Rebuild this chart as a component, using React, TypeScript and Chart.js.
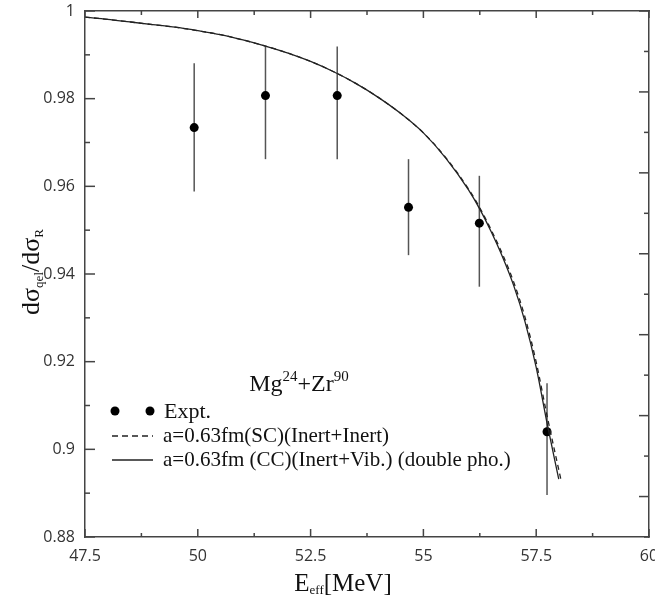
import React, { useEffect, useRef } from "react";
import { Chart, registerables } from "chart.js";

Chart.register(...registerables);

// ---- data ----
const exptE = [49.92, 51.5, 53.09, 54.67, 56.24, 57.74];
const exptY = [0.9734, 0.9807, 0.9807, 0.9552, 0.9516, 0.904];
const exptLow = [0.9588, 0.9662, 0.9662, 0.9443, 0.9371, 0.8896];
const exptHigh = [0.9881, 0.9919, 0.9919, 0.9662, 0.9624, 0.9151];

const ccE = [47.5, 48, 48.5, 49, 49.5, 50, 50.5, 51, 51.5, 52, 52.5, 53, 53.5, 54, 54.5, 55, 55.5, 56, 56.25, 56.5, 56.75, 57, 57.25, 57.5, 57.75, 58.0];
const ccY = [0.9986, 0.9981, 0.9975, 0.9969, 0.9963, 0.9955, 0.9946, 0.9934, 0.992, 0.9904, 0.9885, 0.9862, 0.9835, 0.9803, 0.9766, 0.9722, 0.9664, 0.9592, 0.9548, 0.9497, 0.944, 0.9374, 0.9292, 0.9187, 0.9055, 0.8932];

const scE = [47.5, 48, 48.5, 49, 49.5, 50, 50.5, 51, 51.5, 52, 52.5, 53, 53.5, 54, 54.5, 55, 55.5, 56, 56.25, 56.5, 56.75, 57, 57.25, 57.5, 57.75, 58.05];
const scY = [0.9986, 0.9981, 0.9975, 0.9969, 0.9963, 0.9955, 0.9946, 0.9934, 0.992, 0.9904, 0.9885, 0.9862, 0.9835, 0.9803, 0.9766, 0.9722, 0.9665, 0.9594, 0.9551, 0.9501, 0.9446, 0.9382, 0.9302, 0.9199, 0.9072, 0.893];

const xTicks = [47.5, 50, 52.5, 55, 57.5, 60];
const xMinorTicks = [48.75, 51.25, 53.75, 56.25, 58.75];
const yTicks = [0.88, 0.9, 0.92, 0.94, 0.96, 0.98, 1];
const yMinorTicks = [0.89, 0.91, 0.93, 0.95, 0.97, 0.99];
const rightTicks = [0, 1, 2, 3, 4, 5, 6, 7, 8, 9, 10, 11, 12, 13];

const legendTitle = [
  { t: "Mg", sup: false },
  { t: "24", sup: true },
  { t: "+Zr", sup: false },
  { t: "90", sup: true },
];
const legendLabels = ["Expt.", "a=0.63fm(SC)(Inert+Inert)", "a=0.63fm (CC)(Inert+Vib.) (double pho.)"];

const SERIF = '"Liberation Serif", "Times New Roman", serif';
const SANS = '"Open Sans", "DejaVu Sans", sans-serif';

type Part = { t: string; size: number; dy: number };
function drawParts(ctx: CanvasRenderingContext2D, parts: Part[], x: number, y: number, align: "center" | "left") {
  let total = 0;
  for (const p of parts) {
    ctx.font = `${p.size}px ${SERIF}`;
    total += ctx.measureText(p.t).width;
  }
  let cx = align === "center" ? x - total / 2 : x;
  ctx.textAlign = "left";
  ctx.textBaseline = "alphabetic";
  for (const p of parts) {
    ctx.font = `${p.size}px ${SERIF}`;
    ctx.fillText(p.t, cx, y + p.dy);
    cx += ctx.measureText(p.t).width;
  }
}

const decorPlugin = {
  id: "decor",
  beforeDatasetsDraw(chart: any) {
    const ctx = chart.ctx;
    const xs = chart.scales.x;
    const ys = chart.scales.y;
    ctx.save();
    ctx.strokeStyle = "#555";
    ctx.lineWidth = 1.5;
    for (let i = 0; i < exptE.length; i++) {
      const px = xs.getPixelForValue(exptE[i]);
      ctx.beginPath();
      ctx.moveTo(px, ys.getPixelForValue(exptLow[i]));
      ctx.lineTo(px, ys.getPixelForValue(exptHigh[i]));
      ctx.stroke();
    }
    ctx.restore();
  },
  afterDraw(chart: any) {
    const ctx = chart.ctx;
    const xs = chart.scales.x;
    const ys = chart.scales.y;
    const y2 = chart.scales.y2;
    const a = chart.chartArea;
    ctx.save();
    ctx.strokeStyle = "#444";
    ctx.lineWidth = 1.5;
    const line = (x1: number, y1: number, x2: number, yb: number) => {
      ctx.beginPath();
      ctx.moveTo(x1, y1);
      ctx.lineTo(x2, yb);
      ctx.stroke();
    };
    // bottom & top ticks
    for (const v of xTicks) {
      const p = xs.getPixelForValue(v);
      line(p, a.bottom, p, a.bottom - 8);
      line(p, a.top, p, a.top + 7);
    }
    for (const v of xMinorTicks) {
      const p = xs.getPixelForValue(v);
      line(p, a.bottom, p, a.bottom - 4);
      line(p, a.top, p, a.top + 4);
    }
    // left ticks
    for (const v of yTicks) {
      const p = ys.getPixelForValue(v);
      line(a.left, p, a.left + 10, p);
    }
    for (const v of yMinorTicks) {
      const p = ys.getPixelForValue(v);
      line(a.left, p, a.left + 5, p);
    }
    // right ticks
    for (const v of rightTicks) {
      const p = y2.getPixelForValue(v);
      line(a.right, p, a.right - (v % 2 === 1 ? 10 : 5), p);
    }

    // axis titles
    ctx.fillStyle = "#111";
    drawParts(
      ctx,
      [
        { t: "E", size: 25, dy: 0 },
        { t: "eff", size: 13, dy: 3 },
        { t: "[MeV]", size: 25, dy: 0 },
      ],
      343,
      591,
      "center"
    );
    ctx.save();
    ctx.translate(39, 272);
    ctx.rotate(-Math.PI / 2);
    drawParts(
      ctx,
      [
        { t: "d\u03c3", size: 26, dy: 0 },
        { t: "qel", size: 13, dy: 4 },
        { t: "/d\u03c3", size: 26, dy: 0 },
        { t: "R", size: 13, dy: 4 },
      ],
      0,
      0,
      "center"
    );
    ctx.restore();

    // legend
    drawParts(
      ctx,
      legendTitle.map((p) => ({ t: p.t, size: p.sup ? 15 : 24, dy: p.sup ? -10 : 0 })),
      299,
      391,
      "center"
    );
    // Expt row
    ctx.fillStyle = "#000";
    for (const cx of [115, 150]) {
      ctx.beginPath();
      ctx.arc(cx, 411, 4.5, 0, Math.PI * 2);
      ctx.fill();
    }
    ctx.fillStyle = "#111";
    drawParts(ctx, [{ t: legendLabels[0], size: 22, dy: 0 }], 164, 418, "left");
    // dashed row
    ctx.strokeStyle = "#222";
    ctx.lineWidth = 1.3;
    ctx.setLineDash([6, 4]);
    line(112, 436, 153, 436);
    ctx.setLineDash([]);
    drawParts(ctx, [{ t: legendLabels[1], size: 21, dy: 0 }], 163, 442, "left");
    // solid row
    line(112, 460, 153, 460);
    drawParts(ctx, [{ t: legendLabels[2], size: 21, dy: 0 }], 163, 466, "left");
    ctx.restore();
  },
};

export default function App() {
  const ref = useRef<HTMLCanvasElement | null>(null);
  useEffect(() => {
    if (!ref.current) return;
    const chart = new Chart(ref.current, {
      type: "scatter",
      data: {
        datasets: [
          {
            label: "a=0.63fm(SC)(Inert+Inert)",
            type: "line",
            data: scE.map((x, i) => ({ x, y: scY[i] })),
            borderColor: "#222",
            borderWidth: 1.3,
            borderDash: [5, 4],
            pointRadius: 0,
            fill: false,
            cubicInterpolationMode: "monotone",
          } as any,
          {
            label: "a=0.63fm (CC)(Inert+Vib.) (double pho.)",
            type: "line",
            data: ccE.map((x, i) => ({ x, y: ccY[i] })),
            borderColor: "#222",
            borderWidth: 1.3,
            pointRadius: 0,
            fill: false,
            cubicInterpolationMode: "monotone",
          } as any,
          {
            label: "Expt.",
            data: exptE.map((x, i) => ({ x, y: exptY[i] })),
            pointRadius: 4.5,
            pointBackgroundColor: "#000",
            pointBorderColor: "#000",
            pointBorderWidth: 0,
          },
        ],
      },
      options: {
        responsive: false,
        animation: false,
        layout: { padding: 0, autoPadding: false },
        plugins: { legend: { display: false }, tooltip: { enabled: false } },
        scales: {
          x: {
            type: "linear",
            position: "bottom",
            min: 47.5,
            max: 60,
            afterBuildTicks: (s: any) => {
              s.ticks = xTicks.map((v) => ({ value: v }));
            },
            ticks: {
              padding: 10,
              color: "#333",
              font: { family: SANS, size: 16 },
              maxRotation: 0,
              autoSkip: false,
              callback: (v: any) => String(v),
            },
            grid: { display: false, drawTicks: false },
            border: { display: true, color: "#444", width: 1.5 },
            afterFit: (s: any) => {
              s.height = 62;
              s.paddingLeft = 0;
              s.paddingRight = 0;
            },
          },
          x2: {
            type: "linear",
            position: "top",
            min: 47.5,
            max: 60,
            ticks: { display: false },
            grid: { display: false, drawTicks: false },
            border: { display: true, color: "#444", width: 1.5 },
            afterFit: (s: any) => {
              s.height = 11;
            },
          },
          y: {
            type: "linear",
            position: "left",
            min: 0.88,
            max: 1,
            afterBuildTicks: (s: any) => {
              s.ticks = yTicks.map((v) => ({ value: v }));
            },
            ticks: {
              padding: 10,
              color: "#333",
              font: { family: SANS, size: 16 },
              autoSkip: false,
              callback: (v: any) => String(+Number(v).toFixed(2)),
            },
            grid: { display: false, drawTicks: false },
            border: { display: true, color: "#444", width: 1.5 },
            afterFit: (s: any) => {
              s.width = 85;
              s.paddingTop = 0;
              s.paddingBottom = 0;
            },
          },
          y2: {
            type: "linear",
            position: "right",
            min: 0,
            max: 13,
            ticks: { display: false },
            grid: { display: false, drawTicks: false },
            border: { display: true, color: "#444", width: 1.5 },
            afterFit: (s: any) => {
              s.width = 6;
            },
          },
        },
      },
      plugins: [decorPlugin],
    });
    return () => chart.destroy();
  }, []);
  return (
    <div style={{ position: "absolute", left: 0, top: 0, width: 655, height: 599, background: "#fff" }}>
      <canvas ref={ref} width={655} height={599} style={{ display: "block" }} />
    </div>
  );
}
